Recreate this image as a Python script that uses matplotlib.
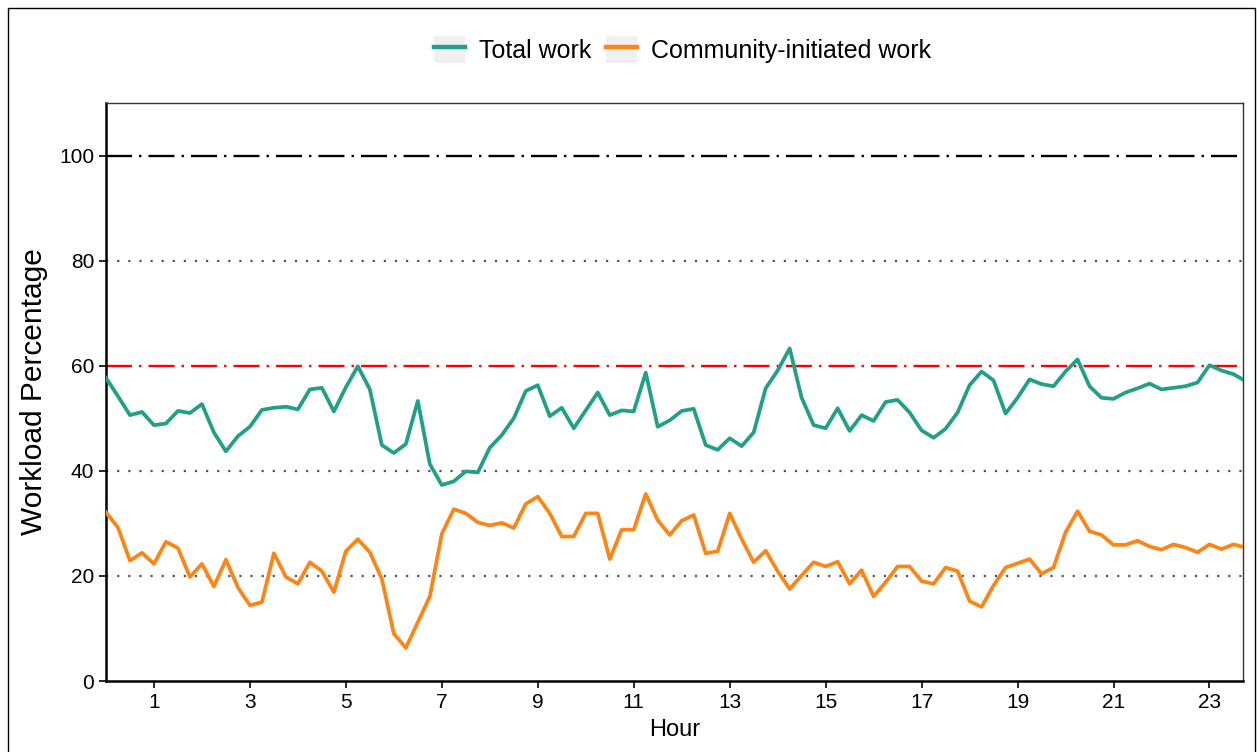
import matplotlib.pyplot as plt
import matplotlib.patches as mpatches
from matplotlib.lines import Line2D
import numpy as np

plt.rcParams['font.family'] = ['Liberation Sans', 'DejaVu Sans']

# 15-minute slots over the day
hours = np.arange(96) * 0.25

total_work = [
    57.7, 54.2, 50.6, 51.2, 48.7, 49.0, 51.4, 51.0, 52.7, 47.3, 43.7, 46.6, 48.4, 51.6, 52.0, 52.2,
    51.7, 55.5, 55.8, 51.3, 55.9, 59.9, 55.5, 44.9, 43.4, 45.1, 53.3, 41.3, 37.3, 38.0, 39.9, 39.7,
    44.4, 46.8, 50.0, 55.2, 56.3, 50.4, 52.0, 48.1, 51.5, 54.9, 50.6, 51.5, 51.3, 58.7, 48.4, 49.6,
    51.4, 51.8, 44.9, 44.0, 46.2, 44.7, 47.3, 55.7, 59.1, 63.3, 53.9, 48.7, 48.1, 51.9, 47.6, 50.6,
    49.5, 53.1, 53.5, 51.1, 47.7, 46.3, 48.0, 51.1, 56.3, 58.9, 57.2, 50.9, 53.9, 57.4, 56.5, 56.1,
    58.9, 61.2, 56.1, 53.9, 53.7, 54.9, 55.7, 56.6, 55.5, 55.8, 56.1, 56.8, 60.1, 59.1, 58.4, 57.1,
]

community_work = [
    32.1, 29.2, 22.9, 24.4, 22.3, 26.5, 25.3, 19.8, 22.3, 18.0, 23.1, 17.8, 14.4, 15.0, 24.3, 19.8,
    18.5, 22.6, 20.9, 16.9, 24.7, 27.0, 24.5, 19.4, 9.0, 6.3, 11.2, 16.1, 28.0, 32.7, 31.9, 30.2,
    29.6, 30.1, 29.1, 33.7, 35.1, 31.9, 27.5, 27.5, 31.9, 31.9, 23.2, 28.8, 28.8, 35.6, 30.6, 27.8,
    30.5, 31.6, 24.3, 24.7, 31.9, 27.0, 22.6, 24.8, 20.9, 17.5, 20.1, 22.6, 21.8, 22.7, 18.5, 21.1,
    16.1, 18.8, 21.8, 21.8, 19.0, 18.5, 21.6, 20.9, 15.2, 14.1, 18.2, 21.6, 22.4, 23.2, 20.4, 21.6,
    28.3, 32.3, 28.5, 27.8, 25.9, 25.9, 26.7, 25.6, 25.0, 26.0, 25.4, 24.5, 26.0, 25.1, 26.0, 25.4,
]

xticks = [1, 3, 5, 7, 9, 11, 13, 15, 17, 19, 21, 23]
yticks = [0, 20, 40, 60, 80, 100]

teal = '#22a087'
orange = '#fd8516'

fig = plt.figure(figsize=(12.57, 7.52), dpi=100)
ax = fig.add_axes([0.0843, 0.0944, 0.9046, 0.7686])

# reference lines
for yv in [20, 40, 80]:
    ax.axhline(yv, color='#555555', lw=1.6, ls=(0, (1, 4)), zorder=1)
ax.axhline(100, color='black', lw=1.7, ls=(0, (11, 3, 1, 3)), zorder=1)
ax.axhline(60, color='#ff0000', lw=1.7, ls=(0, (11, 3, 1, 3)), zorder=1)

ax.plot(hours, total_work, color=teal, lw=2.7, zorder=3)
ax.plot(hours, community_work, color=orange, lw=2.7, zorder=3)

ax.set_xlim(0, 23.7)
ax.set_ylim(0, 110)
ax.set_xticks(xticks)
ax.set_yticks(yticks)
ax.tick_params(labelsize=15, length=5, width=1.2, colors='black')
ax.set_xlabel('Hour', fontsize=17, labelpad=5)
ax.set_ylabel('Workload Percentage', fontsize=21.5, labelpad=8)

for side in ['left', 'bottom']:
    ax.spines[side].set_linewidth(1.8)
for side in ['top', 'right']:
    ax.spines[side].set_linewidth(1.0)
    ax.spines[side].set_color('#333333')

# legend keys with the grey key background
key_bg = dict(facecolor='#f0f0f0', edgecolor='none')
handles = [(mpatches.Rectangle((0, 0), 1, 1, **key_bg), Line2D([], [], color=teal, lw=3.2)),
           (mpatches.Rectangle((0, 0), 1, 1, **key_bg), Line2D([], [], color=orange, lw=3.2))]
labels = ['Total work', 'Community-initiated work']
fig.legend(handles, labels, loc='center', bbox_to_anchor=(0.543, 0.934), ncol=2, frameon=False,
           fontsize=18, handlelength=1.25, handleheight=1.25, columnspacing=0.6,
           handletextpad=0.55)

# outer frame
fig.patches.append(mpatches.Rectangle((0.0064, -0.01), 0.992, 0.9994 - 0.0106 + 0.01,
                                      transform=fig.transFigure, fill=False,
                                      edgecolor='black', lw=1.0))

fig.savefig('out.png', dpi=100)
